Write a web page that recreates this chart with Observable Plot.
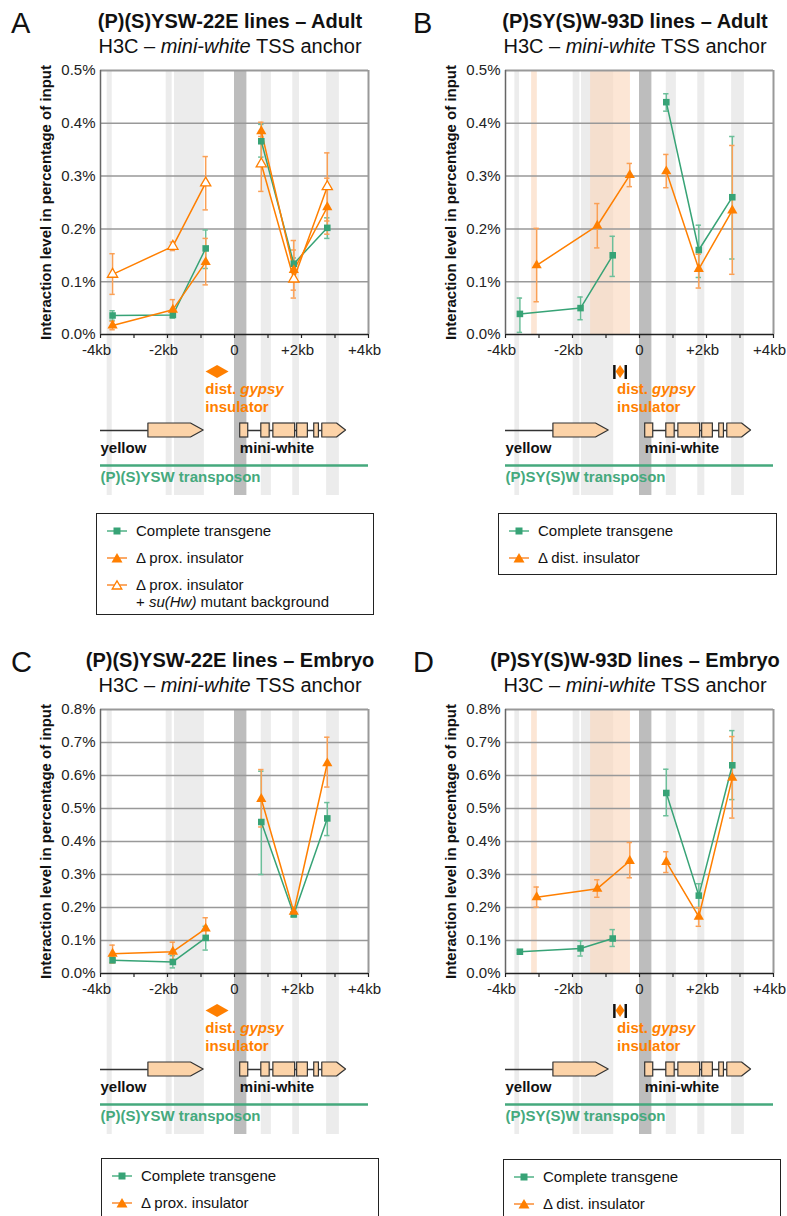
<!DOCTYPE html>
<html><head><meta charset="utf-8">
<script src="https://cdn.jsdelivr.net/npm/d3@7"></script>
<script src="https://cdn.jsdelivr.net/npm/@observablehq/plot@0.6"></script>
<style>
body{margin:0;background:#fff;font-family:"Liberation Sans",Arial,sans-serif;color:#111}
#page{position:relative;width:787px;height:1216px;overflow:hidden;background:#fff}
.panel{position:absolute;width:400px;height:640px}
.letter{position:absolute;font-size:29px;line-height:29px}
.title,.subtitle{position:absolute;left:30px;width:400px;text-align:center;font-size:20px;line-height:20px;white-space:nowrap}
.title{font-weight:bold;top:11px}
.subtitle{top:36px}
.legend{position:absolute;border:1.5px solid #222;background:#fff;font-size:15px;box-sizing:border-box}
.legend .row{position:absolute;white-space:nowrap;line-height:15px}
</style></head>
<body><div id="page"></div>
<script>
// ---------- axis ticks ----------
const xTickValues = [-4, -3, -2, -1, 0, 1, 2, 3, 4];
const xLabelValues = [-4, -2, 2, 4];
const xLabelTexts = ["-4kb", "-2kb", "+2kb", "+4kb"];
const xZeroLabel = "0";
const yTicksAdult = [0, 0.1, 0.2, 0.3, 0.4, 0.5];
const yTicksEmbryo = [0, 0.1, 0.2, 0.3, 0.4, 0.5, 0.6, 0.7, 0.8];

// ---------- fragment positions (kb from mini-white TSS) ----------
const pos22E = [-3.64, -1.84, -0.86, 0.80, 1.77, 2.77];
const pos93D_complete = [-3.57, -1.76, -0.80, 0.80, 1.77, 2.77];
const pos93D_dDist = [-3.07, -1.26, -0.29, 0.80, 1.77, 2.77];

// ---------- A: (P)(S)YSW-22E adult ----------
const adult22E_complete = [0.036, 0.037, 0.163, 0.366, 0.134, 0.202];
const adult22E_complete_lo = [0.027, 0.031, 0.125, 0.336, 0.124, 0.182];
const adult22E_complete_hi = [0.045, 0.043, 0.198, 0.398, 0.145, 0.221];
const adult22E_dProx = [0.017, 0.047, 0.137, 0.385, 0.122, 0.241];
const adult22E_dProx_lo = [0.009, 0.033, 0.094, 0.370, 0.084, 0.190];
const adult22E_dProx_hi = [0.025, 0.066, 0.182, 0.402, 0.160, 0.296];
const adult22E_dProxSuHw = [0.114, 0.167, 0.287, 0.323, 0.105, 0.280];
const adult22E_dProxSuHw_lo = [0.076, 0.159, 0.236, 0.271, 0.069, 0.215];
const adult22E_dProxSuHw_hi = [0.153, 0.175, 0.337, 0.375, 0.178, 0.344];

// ---------- B: (P)SY(S)W-93D adult ----------
const adult93D_complete = [0.039, 0.050, 0.150, 0.440, 0.160, 0.260];
const adult93D_complete_lo = [0.004, 0.028, 0.110, 0.423, 0.108, 0.143];
const adult93D_complete_hi = [0.069, 0.071, 0.186, 0.456, 0.207, 0.375];
const adult93D_dDist = [0.131, 0.206, 0.302, 0.309, 0.124, 0.235];
const adult93D_dDist_lo = [0.062, 0.164, 0.280, 0.278, 0.088, 0.114];
const adult93D_dDist_hi = [0.201, 0.248, 0.324, 0.341, 0.152, 0.358];

// ---------- C: (P)(S)YSW-22E embryo ----------
const embryo22E_complete = [0.040, 0.035, 0.108, 0.459, 0.179, 0.470];
const embryo22E_complete_lo = [0.033, 0.017, 0.071, 0.300, 0.172, 0.418];
const embryo22E_complete_hi = [0.050, 0.054, 0.143, 0.613, 0.186, 0.518];
const embryo22E_dProx = [0.060, 0.066, 0.136, 0.529, 0.187, 0.637];
const embryo22E_dProx_lo = [0.032, 0.039, 0.105, 0.444, 0.180, 0.565];
const embryo22E_dProx_hi = [0.086, 0.095, 0.169, 0.618, 0.195, 0.716];

// ---------- D: (P)SY(S)W-93D embryo ----------
const embryo93D_complete = [0.066, 0.076, 0.106, 0.547, 0.236, 0.631];
const embryo93D_complete_lo = [0.062, 0.053, 0.082, 0.478, 0.199, 0.527];
const embryo93D_complete_hi = [0.070, 0.099, 0.133, 0.619, 0.272, 0.736];
const embryo93D_dDist = [0.231, 0.257, 0.341, 0.338, 0.172, 0.593];
const embryo93D_dDist_lo = [0.201, 0.231, 0.290, 0.306, 0.143, 0.471];
const embryo93D_dDist_hi = [0.262, 0.284, 0.397, 0.369, 0.200, 0.718];

// ---------- shaded fragment bands (kb) ----------
const bands22E_x1 = [-3.80, -2.04, -1.79, 0.80, 1.74, 2.75];
const bands22E_x2 = [-3.65, -1.86, -0.90, 1.10, 1.94, 3.13];
const bands93D_x1 = [-3.72, -1.98, -1.73, 0.80, 1.74, 2.75];
const bands93D_x2 = [-3.58, -1.78, -0.77, 1.10, 1.95, 3.13];
const anchorBand = [0, 0.37];
const insBands93D_x1 = [-3.22, -1.46];
const insBands93D_x2 = [-3.05, -0.27];

// ---------- transgene map (kb) ----------
const yellowLine = [-4, -2.57];
const yellowArrow = [-2.57, -1.30, -0.92];   // start, shoulder, tip
const whiteIntron = [0.41, 2.62];
const whiteExons_x1 = [0.17, 0.80, 1.16, 1.87, 2.38];
const whiteExons_x2 = [0.41, 1.05, 1.81, 2.19, 2.52];
const whiteArrow = [2.62, 3.06, 3.33];
const insulator22E = -0.52;
const insulator93D = -0.58;
const insulator93D_bars = [-0.75, -0.41];
const insLabel22E = -0.87, insLabel93D = -0.67;
const yellowLabelX = -4, whiteLabelX = 0.16;

const GREEN = "#37a376", GREEN_ERR = "#6cbf9a";
const ORANGE = "#ff7f00", ORANGE_ERR = "#fba055";
const TEXT_GREEN = "#45a97d";
const PEACH = "#fcd3a8";

const wideDiamond = {draw(c){c.moveTo(-11.5,0);c.lineTo(0,-6.5);c.lineTo(11.5,0);c.lineTo(0,6.5);c.closePath();}};
const tallDiamond = {draw(c){c.moveTo(-4.5,0);c.lineTo(0,-6.5);c.lineTo(4.5,0);c.lineTo(0,6.5);c.closePath();}};

function rows(x, y, lo, hi){ return x.map((v,i)=>({x:v, y:y[i], lo:lo[i], hi:hi[i], side: v < 0.3 ? "upstream" : "downstream"})); }

const panels = [
  {ox:0, oy:0, letter:"A", title:"(P)(S)YSW-22E lines – Adult", ymax:0.5, yTicks:yTicksAdult, c:"22E",
   series:[
     {d:rows(pos22E, adult22E_complete, adult22E_complete_lo, adult22E_complete_hi), col:GREEN, err:GREEN_ERR, sym:"square"},
     {d:rows(pos22E, adult22E_dProx, adult22E_dProx_lo, adult22E_dProx_hi), col:ORANGE, err:ORANGE_ERR, sym:"triangle"},
     {d:rows(pos22E, adult22E_dProxSuHw, adult22E_dProxSuHw_lo, adult22E_dProxSuHw_hi), col:ORANGE, err:ORANGE_ERR, sym:"triangle", open:true}],
   legend:{left:96, top:513, width:278, height:102, items:[
     ["square","Complete transgene"],["triangle","Δ prox. insulator"],["open","Δ prox. insulator<br>+ <i>su(Hw)</i> mutant background"]]}},
  {ox:405, oy:0, letter:"B", title:"(P)SY(S)W-93D lines – Adult", ymax:0.5, yTicks:yTicksAdult, c:"93D",
   series:[
     {d:rows(pos93D_complete, adult93D_complete, adult93D_complete_lo, adult93D_complete_hi), col:GREEN, err:GREEN_ERR, sym:"square"},
     {d:rows(pos93D_dDist, adult93D_dDist, adult93D_dDist_lo, adult93D_dDist_hi), col:ORANGE, err:ORANGE_ERR, sym:"triangle"}],
   legend:{left:93, top:513, width:279, height:62, items:[["square","Complete transgene"],["triangle","Δ dist. insulator"]]}},
  {ox:0, oy:639, letter:"C", title:"(P)(S)YSW-22E lines – Embryo", ymax:0.8, yTicks:yTicksEmbryo, c:"22E",
   series:[
     {d:rows(pos22E, embryo22E_complete, embryo22E_complete_lo, embryo22E_complete_hi), col:GREEN, err:GREEN_ERR, sym:"square"},
     {d:rows(pos22E, embryo22E_dProx, embryo22E_dProx_lo, embryo22E_dProx_hi), col:ORANGE, err:ORANGE_ERR, sym:"triangle"}],
   legend:{left:101, top:519, width:278, height:80, items:[["square","Complete transgene"],["triangle","Δ prox. insulator"]]}},
  {ox:405, oy:639, letter:"D", title:"(P)SY(S)W-93D lines – Embryo", ymax:0.8, yTicks:yTicksEmbryo, c:"93D",
   series:[
     {d:rows(pos93D_complete, embryo93D_complete, embryo93D_complete_lo, embryo93D_complete_hi), col:GREEN, err:GREEN_ERR, sym:"square"},
     {d:rows(pos93D_dDist, embryo93D_dDist, embryo93D_dDist_lo, embryo93D_dDist_hi), col:ORANGE, err:ORANGE_ERR, sym:"triangle"}],
   legend:{left:98, top:520, width:278, height:80, items:[["square","Complete transgene"],["triangle","Δ dist. insulator"]]}}
];

function makeChart(p){
  const ymax = p.ymax, FH = 264;
  const py = px => -px * ymax / FH;       // pixel offset below the x axis -> y value
  const is93D = p.c === "93D";
  const bx1 = is93D ? bands93D_x1 : bands22E_x1, bx2 = is93D ? bands93D_x2 : bands22E_x2;
  const bands = bx1.map((v,i)=>({x1:v, x2:bx2[i]}));
  const insBands = is93D ? insBands93D_x1.map((v,i)=>({x1:v, x2:insBands93D_x2[i]})) : [];
  const exons = whiteExons_x1.map((v,i)=>({x1:v, x2:whiteExons_x2[i]}));
  const boxTop = py(89), boxBot = py(103), boxMid = py(96);
  const arrowPts = a => [{x:a[0], lo:boxBot, hi:boxTop},{x:a[1], lo:boxBot, hi:boxTop},{x:a[2], lo:boxMid, hi:boxMid}];
  const insX = is93D ? insulator93D : insulator22E;
  const insLX = is93D ? insLabel93D : insLabel22E;
  const bold = {fontWeight:"bold", fontSize:15, textAnchor:"start"};
  const marks = [
    Plot.rect(bands, {x1:"x1", x2:"x2", y1:py(161), y2:ymax, fill:"#ececec"}),
    Plot.rect([anchorBand], {x1:d=>d[0], x2:d=>d[1], y1:py(161), y2:ymax, fill:"#bdbdbd"}),
    Plot.rect(insBands, {x1:"x1", x2:"x2", y1:0, y2:ymax, fill:"#fbd8bf", fillOpacity:0.65}),
    Plot.ruleY(p.yTicks.slice(1), {stroke:"#999", strokeWidth:d=>d===ymax?2:1.5}),
    Plot.ruleX([4], {y1:0, y2:ymax, stroke:"#999", strokeWidth:2}),
    // x axis ticks and labels
    Plot.ruleX(xTickValues, {x:d=>d, y1:0, y2:py(4), stroke:"#222", strokeWidth:1.2}),
    Plot.text(xLabelValues, {x:d=>d, y:0, dy:16, dx:-4, text:(d,i)=>xLabelTexts[i], fontSize:15, fill:"#222"}),
    Plot.text([0], {x:d=>d, y:0, dy:16, text:[xZeroLabel], fontSize:15, fill:"#222"}),
    // transgene map
    Plot.ruleY([0], {x1:yellowLine[0], x2:yellowLine[1], y:boxMid, stroke:"#333", strokeWidth:1.3}),
    Plot.ruleY([0], {x1:whiteIntron[0], x2:whiteIntron[1], y:boxMid, stroke:"#333", strokeWidth:1.3}),
    Plot.areaY(arrowPts(yellowArrow), {x:"x", y1:"lo", y2:"hi", fill:PEACH, stroke:"#333", strokeWidth:1.2}),
    Plot.areaY(arrowPts(whiteArrow), {x:"x", y1:"lo", y2:"hi", fill:PEACH, stroke:"#333", strokeWidth:1.2}),
    Plot.rect(exons, {x1:"x1", x2:"x2", y1:boxBot, y2:boxTop, fill:PEACH, stroke:"#333", strokeWidth:1.2}),
    Plot.dot([insX], {x:d=>d, y:py(37), symbol: is93D ? tallDiamond : wideDiamond, fill:ORANGE, stroke:"none"}),
    Plot.ruleX(is93D ? insulator93D_bars : [], {x:d=>d, y1:py(31), y2:py(45), stroke:"#111", strokeWidth:2.5}),
    Plot.text(["dist."], {x:insLX, y:py(54.5), fill:ORANGE, ...bold}),
    Plot.text(["gypsy"], {x:insLX, y:py(54.5), dx:35, fill:ORANGE, fontStyle:"italic", ...bold}),
    Plot.text(["insulator"], {x:insLX, y:py(73), fill:ORANGE, ...bold}),
    Plot.text(["yellow"], {x:yellowLabelX, y:py(114), fill:"#111", ...bold}),
    Plot.text(["mini-white"], {x:whiteLabelX, y:py(114), fill:"#111", ...bold}),
    Plot.ruleY([0], {x1:-4, x2:4, y:py(131), stroke:TEXT_GREEN, strokeWidth:2.5}),
    Plot.text([is93D ? "(P)SY(S)W transposon" : "(P)(S)YSW transposon"], {x:-4, y:py(143), fill:TEXT_GREEN, ...bold})
  ];
  for (const s of p.series){
    marks.push(
      Plot.ruleX(s.d, {x:"x", y1:"lo", y2:"hi", stroke:s.err, strokeWidth:1.5}),
      Plot.ruleY(s.d, {y:"hi", x1:d=>d.x-0.08, x2:d=>d.x+0.08, stroke:s.err, strokeWidth:1.5}),
      Plot.ruleY(s.d, {y:"lo", x1:d=>d.x-0.08, x2:d=>d.x+0.08, stroke:s.err, strokeWidth:1.5})
    );
  }
  for (const s of p.series){
    marks.push(Plot.line(s.d, {x:"x", y:"y", z:"side", stroke:s.col, strokeWidth:1.5}));
  }
  for (const s of p.series){
    marks.push(Plot.dot(s.d, {x:"x", y:"y", symbol:s.sym, r:s.sym==="square"?3.7:3.8,
      fill: s.open ? "#fff" : s.col, stroke: s.open ? s.col : "none", strokeWidth:1.3}));
  }
  marks.push(
    Plot.ruleY([0], {stroke:"#222", strokeWidth:1.5}),
    Plot.ruleX([-4], {y1:0, y2:ymax, stroke:"#666", strokeWidth:1.5}),
    Plot.text(["Interaction level in percentage of input"], {frameAnchor:"left", textAnchor:"middle", rotate:-90, dx:-54, fontWeight:"bold", fontSize:15, fill:"#111"})
  );
  return Plot.plot({
    width:400, height:440, marginLeft:100, marginRight:32, marginTop:10, marginBottom:166,
    style:{fontFamily:"'Liberation Sans', Arial, sans-serif", fontSize:"15px", color:"#222", background:"transparent", overflow:"visible"},
    x:{domain:[-4,4], axis:null},
    y:{domain:[0,ymax], ticks:p.yTicks, tickFormat:d=>d.toFixed(1)+"%", tickSize:0, tickPadding:5, label:null},
    marks
  });
}

function legendSymbol(kind){
  let m;
  if (kind==="square") m = `<rect x="6.5" y="2.5" width="7" height="7" fill="${GREEN}"/>`;
  else if (kind==="triangle") m = `<polygon points="10,1 15.5,10.5 4.5,10.5" fill="${ORANGE}"/>`;
  else m = `<polygon points="10,1.8 14.8,10 5.2,10" fill="#fff" stroke="${ORANGE}" stroke-width="1.3"/>`;
  return `<svg width="20" height="12" viewBox="0 0 20 12"><line x1="0" y1="6" x2="20" y2="6" stroke="${kind==="square"?GREEN_ERR:ORANGE_ERR}" stroke-width="1.8"/>${m}</svg>`;
}

const page = document.getElementById("page");
for (const p of panels){
  const div = document.createElement("div");
  div.className = "panel";
  div.style.left = p.ox + "px"; div.style.top = p.oy + "px";
  div.innerHTML = `<div class="letter" style="left:${p.ox? 8 : 11}px;top:9px">${p.letter}</div>
    <div class="title">${p.title}</div>
    <div class="subtitle">H3C – <i>mini-white</i> TSS anchor</div>`;
  const chart = makeChart(p);
  chart.style.position = "absolute"; chart.style.left = "0px"; chart.style.top = "60px";
  div.appendChild(chart);
  const L = p.legend;
  const lg = document.createElement("div");
  lg.className = "legend";
  Object.assign(lg.style, {left:L.left+"px", top:L.top+"px", width:L.width+"px", height:L.height+"px"});
  lg.innerHTML = L.items.map((it,i)=>`<div style="position:absolute;left:10px;top:${10.5+27*i}px;line-height:0">${legendSymbol(it[0])}</div>
     <div class="row" style="left:39px;top:${9+27*i}px;${it[1].includes("<br>")?"line-height:17px;top:"+(8+27*i)+"px":""}">${it[1]}</div>`).join("");
  div.appendChild(lg);
  page.appendChild(div);
}
</script></body></html>
